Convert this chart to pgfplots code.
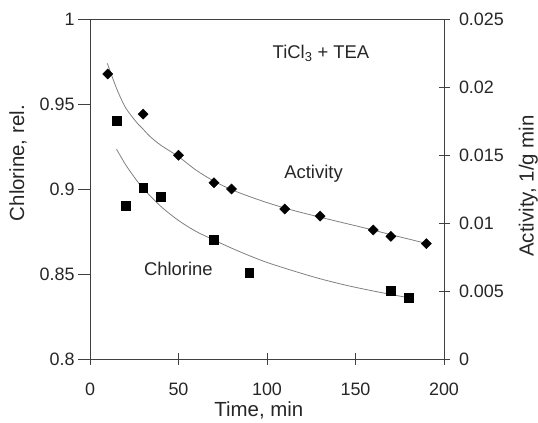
\documentclass[border=0pt]{standalone}
\usepackage{fontspec}
\setmainfont{Liberation Sans}
\usepackage{pgfplots}
\pgfplotsset{compat=1.18}
\definecolor{axc}{gray}{0.25}
\definecolor{fitc}{gray}{0.5}
\begin{document}
\begin{tikzpicture}
\pgfplotsset{
  every tick label/.append style={font=\fontsize{18}{21}\selectfont, text=black!85},
  label style={font=\fontsize{20.5}{24}\selectfont, text=black!85},
  /pgf/number format/assume math mode=true,
}
\begin{axis}[
  at={(0,0)}, anchor=south west,
  scale only axis, width=354bp, height=340bp,
  xmin=0, xmax=200, ymin=0.8, ymax=1,
  axis line style={axc, line width=0.9pt},
  xtick={0,50,100,150,200}, xtick pos=left, ytick pos=left,
  tick align=center, major tick length=12bp,
  tick style={axc, line width=0.9pt},
  xticklabel style={yshift=-14bp},
  ytick=\empty,
  extra y ticks={0.8,0.85,0.9,0.95,1},
  extra y tick style={tick align=outside, major tick length=12bp},
  xlabel={Time, min},
  ylabel={Chlorine, rel.},
  xlabel style={at={(axis description cs:0.477,-0.152)}, anchor=center},
  ylabel style={at={(axis description cs:-0.203,0.576)}, anchor=center},
  clip=false,
]
\addplot[only marks, mark=square*, mark size=4.3bp, black] coordinates {
 (15,0.9402) (20,0.8902) (30,0.9006) (40,0.8955) (70,0.8702) (90,0.8506) (170,0.8402) (180,0.8359)
};
\addplot[fitc, line width=0.8pt, smooth] coordinates {
 (15,0.9234) (20,0.9145) (25,0.9070) (30,0.9003) (40,0.8898) (50,0.8815) (60,0.8750) (70,0.8700)
 (80,0.8652) (90,0.8608) (100,0.8568) (115,0.8518) (130,0.8472) (145,0.8433) (160,0.8400)
 (170,0.8380) (180,0.8360)
};
\node[font=\fontsize{18.5}{22}\selectfont, text=black!85] at (axis cs:130.5,0.98) {TiCl\textsubscript{3} + TEA};
\node[font=\fontsize{18.5}{22}\selectfont, text=black!85] at (axis cs:126.3,0.9091) {Activity};
\node[font=\fontsize{18.5}{22}\selectfont, text=black!85] at (axis cs:49.9,0.8529) {Chlorine};
\end{axis}
\begin{axis}[
  at={(0,0)}, anchor=south west,
  scale only axis, width=354bp, height=340bp,
  xmin=0, xmax=200, ymin=0, ymax=0.025,
  axis x line=none, axis y line*=right,
  axis line style={axc, line width=0.9pt},
  ytick={0,0.005,0.01,0.015,0.02,0.025},
  tick align=center, major tick length=11bp,
  tick style={axc, line width=0.9pt},
  scaled y ticks=false,
  yticklabel style={/pgf/number format/fixed, /pgf/number format/precision=3, xshift=6bp},
  ylabel={Activity, 1/g min},
  ylabel style={at={(axis description cs:1.238,0.509)}, anchor=center, rotate=0},
  clip=false,
]
\addplot[only marks, mark=square*, mark size=3.6bp, mark options={rotate=45}, black] coordinates {
 (10,0.02096) (30,0.01801) (50,0.01498) (70,0.01296) (80,0.01250) (110,0.01103)
 (130,0.01051) (160,0.00949) (170,0.00902) (190,0.00848)
};
\addplot[fitc, line width=0.8pt, smooth] coordinates {
 (9.8,0.02174) (15,0.01990) (20,0.01850) (26,0.01745) (30,0.01690) (34,0.01635) (40,0.01572)
 (50,0.01488) (60,0.01388) (70,0.01308) (80,0.01245) (90,0.01195) (100,0.01150) (110,0.01110)
 (120,0.01075) (130,0.01043) (140,0.01011) (150,0.00980) (160,0.00948) (170,0.00914)
 (180,0.00882) (190,0.00850)
};
\end{axis}
\pgfresetboundingbox
\path[use as bounding box] (-90bp,-64bp) rectangle (448bp,359bp);
\end{tikzpicture}
\end{document}
